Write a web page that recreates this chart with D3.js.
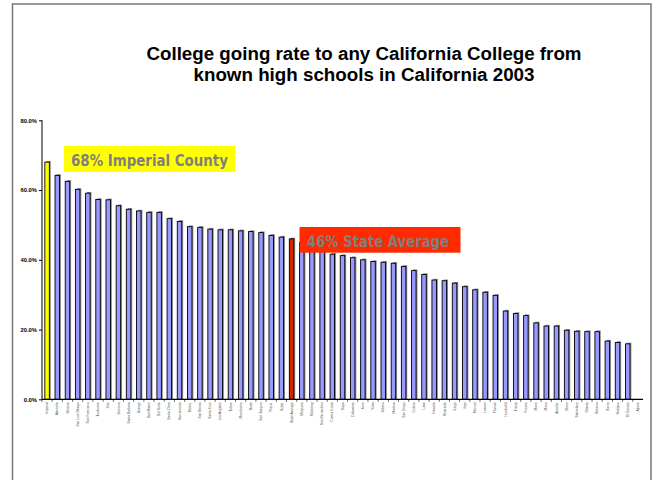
<!DOCTYPE html>
<html>
<head>
<meta charset="utf-8">
<script src="https://cdn.jsdelivr.net/npm/d3@7"></script>
<style>
  html, body { margin: 0; padding: 0; background: #fff; }
  svg { display: block; }
</style>
</head>
<body>
<script>
// College going rate by county, 2003 (share of known high-school graduates)
const counties = [
  "Imperial", "Alameda", "Ventura", "San Luis Obispo", "San Francisco", "Tuolumne",
  "Yolo", "Sonoma", "Santa Barbara", "Orange", "San Mateo", "Del Norte",
  "Santa Clara", "Sacramento", "Modoc", "San Benito", "Santa Cruz", "Los Angeles",
  "Tulare", "Mendocino", "Butte", "San Joaquin", "Placer", "Sutter",
  "State Average", "Mariposa", "Monterey", "San Bernardino", "Contra Costa", "Napa",
  "Calaveras", "Kern", "Yuba", "Solano", "Madera", "San Diego",
  "Colusa", "Lake", "Nevada", "Riverside", "Kings", "Inyo",
  "Merced", "Lassen", "Plumas", "Humboldt", "Trinity", "Fresno",
  "Marin", "Mono", "Amador", "Glenn", "Stanislaus", "Shasta",
  "Tehama", "Sierra", "Siskiyou", "El Dorado", "Alpine"
];
const rates = [
  68.0, 64.2, 62.5, 60.2, 59.1, 57.3,
  57.2, 55.5, 54.5, 54.0, 53.6, 53.6,
  51.8, 51.0, 49.5, 49.3, 48.8, 48.6,
  48.6, 48.3, 48.1, 47.8, 47.0, 46.5,
  46.0, 45.0, 43.8, 42.4, 41.6, 41.2,
  40.6, 40.0, 39.5, 39.3, 39.0, 38.1,
  36.9, 35.8, 34.2, 34.0, 33.3, 32.3,
  31.4, 30.7, 29.8, 25.3, 24.6, 24.0,
  21.9, 21.0, 21.0, 19.8, 19.5, 19.4,
  19.4, 16.7, 16.3, 15.9, null
];
const yTicks = [0, 20, 40, 60, 80];
const titleLines = [
  "College going rate to any California College from",
  "known high schools in California 2003"
];
const highlightCounty = "Imperial";
const averageLabel = "State Average";
const callouts = [
  { text: "68% Imperial County", fill: "#ffff00" },
  { text: "46% State Average", fill: "#ff2a00" }
];

const W = 654, H = 480;
const svg = d3.select("body").append("svg").attr("width", W).attr("height", H);

// slide frame
svg.append("path")
  .attr("d", "M12.5,480 L12.5,4 L651,4 L651,480")
  .attr("fill", "none").attr("stroke", "#777").attr("stroke-width", 1.5);

// title
const titleWidths = [435, 341];
svg.append("text")
  .attr("text-anchor", "middle")
  .attr("font-family", "'Liberation Sans', Arial, sans-serif")
  .attr("font-weight", "bold").attr("font-size", 18).attr("fill", "#000")
  .selectAll("tspan").data(titleLines).join("tspan")
  .attr("x", 364).attr("y", (d, i) => 60 + i * 21)
  .attr("textLength", (d, i) => titleWidths[i])
  .attr("lengthAdjust", "spacingAndGlyphs")
  .text(d => d);

const x = d3.scaleBand().domain(counties).range([42, 643]).paddingInner(0.56).paddingOuter(0.28);
const y = d3.scaleLinear().domain([0, 80]).range([399.3, 120.3]);

const bars = svg.append("g");
const data = counties.map((c, i) => ({ c, v: rates[i] })).filter(d => d.v != null);

// drop shadow behind each bar
bars.selectAll("rect.shadow").data(data).join("rect")
  .attr("class", "shadow")
  .attr("x", d => x(d.c) + 1.4)
  .attr("y", d => y(d.v) - 1.2)
  .attr("width", x.bandwidth())
  .attr("height", d => y(0) - y(d.v) + 1.2)
  .attr("fill", "#8a8a8a");

bars.selectAll("rect.bar").data(data).join("rect")
  .attr("class", "bar")
  .attr("x", d => x(d.c))
  .attr("y", d => y(d.v))
  .attr("width", x.bandwidth())
  .attr("height", d => y(0) - y(d.v))
  .attr("fill", d => d.c === highlightCounty ? "#ffff00" : d.c === averageLabel ? "#d42400" : "#9999ff")
  .attr("stroke", "#000").attr("stroke-width", 0.9);

// y axis
const yAxis = svg.append("g").attr("transform", "translate(42,0)")
  .call(d3.axisLeft(y).tickValues(yTicks).tickSize(3).tickPadding(2).tickFormat(d => d.toFixed(1) + "%"));
yAxis.select(".domain").attr("stroke", "#000").attr("d", `M0,${y(80)}V${y(0)}`);
yAxis.selectAll(".tick line").attr("stroke", "#000");
yAxis.selectAll("text")
  .attr("font-family", "'Liberation Sans', Arial, sans-serif")
  .attr("font-weight", "bold").attr("font-size", 5.8).attr("fill", "#000");

// x axis
const xAxis = svg.append("g").attr("transform", `translate(0,${y(0)})`)
  .call(d3.axisBottom(x).tickSize(0).tickPadding(3));
xAxis.select(".domain").attr("stroke", "#000").attr("stroke-width", 1.2).attr("d", "M42,0H643");
xAxis.selectAll(".tick text")
  .attr("font-family", "'Liberation Sans', Arial, sans-serif")
  .attr("font-size", 3.3).attr("fill", "#444")
  .attr("text-anchor", "end")
  .attr("dy", "0.35em")
  .attr("transform", "translate(0,3) rotate(-90)")
  .attr("x", 0).attr("y", 0);
// boundary ticks between categories
svg.append("g").selectAll("line").data(counties).join("line")
  .attr("x1", d => x(d) - x.step() * x.paddingInner() / 2)
  .attr("x2", d => x(d) - x.step() * x.paddingInner() / 2)
  .attr("y1", y(0)).attr("y2", y(0) + 2.5)
  .attr("stroke", "#000").attr("stroke-width", 0.6);

// callout boxes
const boxes = [
  { x0: 64, y0: 146, x1: 235, y1: 172, tx: 71, ty: 166 },
  { x0: 299.5, y0: 227, x1: 460.5, y1: 252.7, tx: 307, ty: 246.5 }
];
boxes.forEach((b, i) => {
  svg.append("rect")
    .attr("x", b.x0).attr("y", b.y0)
    .attr("width", b.x1 - b.x0).attr("height", b.y1 - b.y0)
    .attr("fill", callouts[i].fill);
  svg.append("text")
    .attr("x", b.tx).attr("y", b.ty)
    .attr("font-family", "Tahoma, 'DejaVu Sans', sans-serif")
    .attr("font-weight", "bold").attr("font-size", 15)
    .attr("fill", "#7f7f7f")
    .attr("textLength", i === 0 ? 157 : 142)
    .attr("lengthAdjust", "spacingAndGlyphs")
    .text(callouts[i].text);
});
</script>
</body>
</html>
